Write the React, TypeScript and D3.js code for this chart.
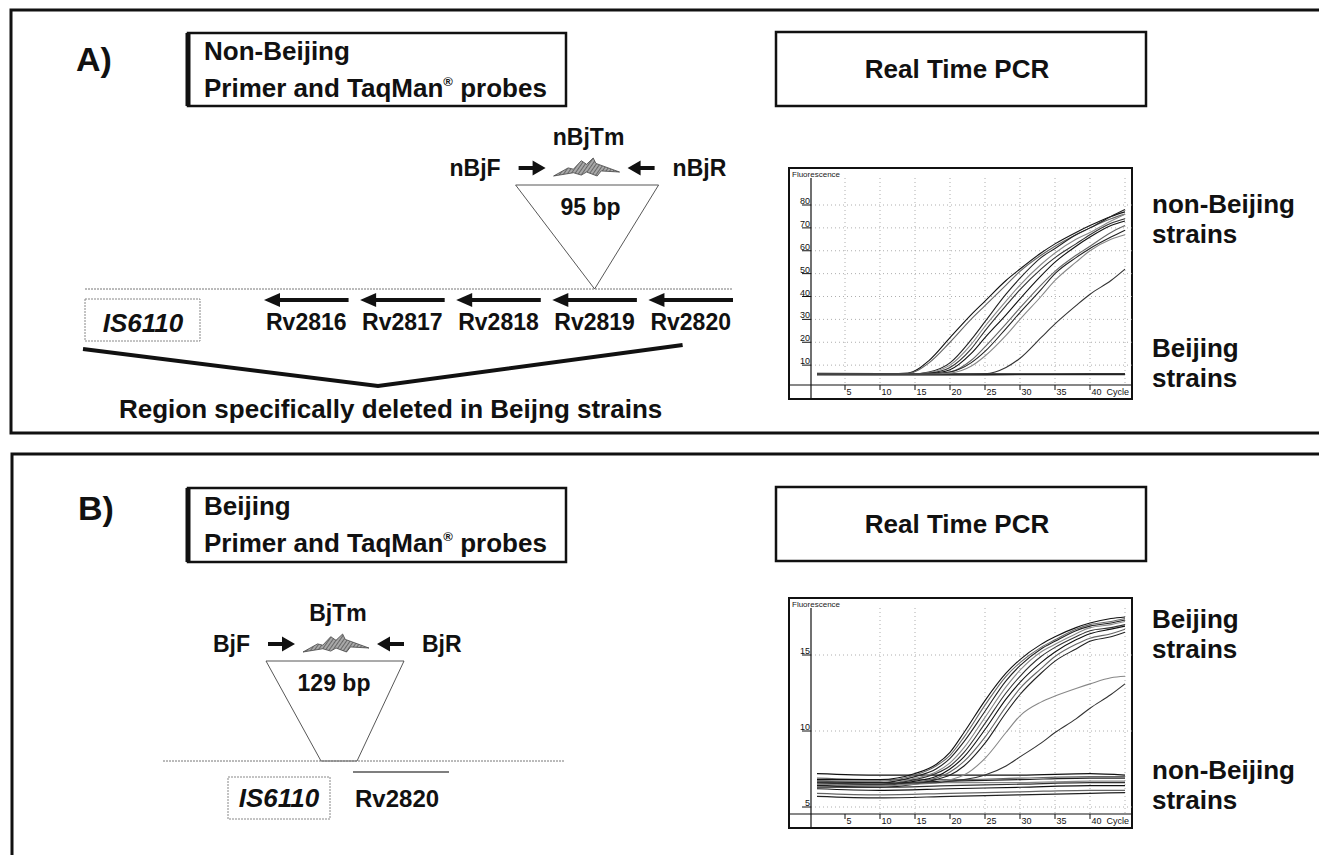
import React from "react";
import * as d3 from "d3";

const FONT = "'Liberation Sans', Arial, Helvetica, sans-serif";

// ---- real time PCR curves, fluorescence ----
const cyclesA = [1, 10, 14, 17, 20, 23, 25, 28, 30, 33, 35, 38, 40, 43, 45];
const nonBeijingA = [
  [6, 6, 6.5, 12, 22, 32, 38, 47, 52, 59, 63, 68, 71, 75, 77],
  [6, 6, 6.3, 11, 20, 30, 36, 45, 51, 58, 62, 67, 70, 74, 76],
  [6, 6, 6, 7, 11, 21, 29, 41, 48, 57, 61, 67, 70, 75, 78],
  [6, 6, 6, 6.8, 10, 19, 27, 38, 45, 54, 59, 65, 68, 73, 76],
  [6, 6, 6, 6.5, 9, 17, 25, 36, 43, 52, 57, 63, 67, 72, 74],
  [6, 6, 6, 6.3, 8, 15, 22, 32, 39, 49, 55, 62, 66, 71, 73],
  [6, 6, 6, 6.2, 7, 12, 18, 28, 35, 45, 51, 58, 62, 68, 71],
  [6, 6, 6, 6.1, 7, 11, 16, 26, 33, 43, 50, 57, 61, 66, 69],
  [6, 6, 6, 6, 6.5, 9.5, 14, 23, 30, 40, 47, 55, 60, 65, 67],
  [6, 6, 6, 6, 6, 6, 6.2, 9, 13, 22, 28, 36, 41, 47, 52],
];
const baseCycles = [1, 10, 20, 30, 40, 45];
const beijingA = [
  [6.3, 6.2, 6.1, 6.1, 6.2, 6.2],
  [6.0, 5.9, 5.9, 6.0, 6.0, 6.0],
  [5.8, 5.8, 5.8, 5.9, 5.9, 5.9],
];

const cyclesB = [1, 10, 15, 18, 20, 22, 25, 28, 30, 33, 35, 38, 40, 43, 45];
const beijingB = [
  [6.8, 6.8, 7.2, 7.8, 8.6, 9.9, 12.0, 13.8, 14.7, 15.7, 16.2, 16.8, 17.1, 17.4, 17.5],
  [6.7, 6.7, 7.1, 7.7, 8.4, 9.6, 11.7, 13.6, 14.5, 15.5, 16.0, 16.7, 17.0, 17.2, 17.4],
  [6.6, 6.6, 7.0, 7.5, 8.2, 9.3, 11.3, 13.3, 14.3, 15.4, 15.9, 16.6, 16.9, 17.1, 17.3],
  [6.5, 6.5, 6.9, 7.3, 7.9, 8.9, 10.9, 12.9, 14.0, 15.2, 15.7, 16.4, 16.8, 17.0, 17.2],
  [6.6, 6.5, 6.8, 7.2, 7.7, 8.6, 10.5, 12.5, 13.6, 14.9, 15.5, 16.2, 16.6, 16.8, 17.0],
  [6.4, 6.4, 6.7, 7.0, 7.5, 8.3, 10.1, 12.1, 13.2, 14.5, 15.2, 16.0, 16.4, 16.7, 16.9],
  [6.5, 6.4, 6.6, 6.9, 7.3, 8.0, 9.6, 11.6, 12.8, 14.1, 14.9, 15.7, 16.1, 16.4, 16.7],
  [6.3, 6.3, 6.5, 6.8, 7.1, 7.7, 9.2, 11.2, 12.4, 13.8, 14.6, 15.4, 15.9, 16.2, 16.5],
  [6.5, 6.4, 6.5, 6.6, 6.8, 7.1, 8.2, 9.9, 11.0, 11.9, 12.3, 12.8, 13.1, 13.5, 13.6],
  [6.6, 6.5, 6.6, 6.6, 6.7, 6.8, 7.1, 7.7, 8.3, 9.2, 9.9, 10.8, 11.5, 12.4, 13.1],
];
const nonBeijingB = [
  [7.2, 7.1, 7.1, 7.1, 7.2, 7.1],
  [6.9, 6.8, 6.8, 6.9, 7.0, 7.0],
  [6.7, 6.6, 6.7, 6.8, 6.9, 6.9],
  [6.6, 6.5, 6.6, 6.6, 6.7, 6.7],
  [6.4, 6.3, 6.4, 6.5, 6.6, 6.6],
  [6.2, 6.1, 6.2, 6.3, 6.4, 6.4],
  [5.9, 5.8, 5.9, 6.0, 6.1, 6.1],
  [5.7, 5.6, 5.7, 5.8, 5.9, 5.95],
];

const xTicks = [5, 10, 15, 20, 25, 30, 35, 40];
const xGridA = [5, 10, 15, 20, 25, 30, 35, 40, 45];
const yTicksA = [10, 20, 30, 40, 50, 60, 70, 80];
const xGridB = [10, 15, 25, 30, 35, 40, 45];
const yTicksB = [5, 10, 15];

// ---- gene map ----
const genesA = ["Rv2816", "Rv2817", "Rv2818", "Rv2819", "Rv2820"];
const ampliconA = "95 bp";
const ampliconB = "129 bp";

const inks = ["#111", "#666", "#222", "#888", "#333"];

function PcrChart({ box, yScaleDomain, yScaleRange, yTicks, xGrid, cycles, rising, flat, flatWidth }: any) {
  const left = box.x + 22;
  const right = box.x + box.w;
  const bottom = box.y + box.h - 14;
  const top = box.y + 10;
  const x = d3.scaleLinear().domain([0, 46]).range([left - 1, right]);
  const y = d3.scaleLinear().domain(yScaleDomain).range(yScaleRange);
  const line = d3
    .line<number[]>()
    .x(d => x(d[0]))
    .y(d => y(d[1]))
    .curve(d3.curveMonotoneX);
  const clipId = "clip" + box.y;

  return (
    <g>
      <defs>
        <clipPath id={clipId}>
          <rect x={left} y={top - 8} width={right - left} height={bottom - top + 8} />
        </clipPath>
      </defs>
      <rect x={box.x} y={box.y} width={box.w} height={box.h} fill="#fff" stroke="#111" strokeWidth={2} />
      <text x={box.x + 3} y={box.y + 9} fontSize={8} fill="#222">Fluorescence</text>

      {/* dotted grid */}
      {xGrid.map((t: number) => (
        <line key={"gx" + t} x1={x(t)} x2={x(t)} y1={top} y2={bottom} stroke="#999" strokeWidth={0.8} strokeDasharray="1,3" />
      ))}
      {yTicks.map((t: number) => (
        <line key={"gy" + t} x1={left} x2={right} y1={y(t)} y2={y(t)} stroke="#999" strokeWidth={0.8} strokeDasharray="1,3" />
      ))}

      {/* axes */}
      <line x1={left} x2={left} y1={top} y2={box.y + box.h} stroke="#111" strokeWidth={1.2} />
      <line x1={box.x} x2={right} y1={bottom} y2={bottom} stroke="#111" strokeWidth={1.2} />
      {yTicks.map((t: number) => (
        <g key={"yt" + t}>
          <line x1={left - 9} x2={left} y1={y(t)} y2={y(t)} stroke="#111" strokeWidth={1} />
          <text x={left - 1} y={y(t) - 1} fontSize={9} textAnchor="end" fill="#111">{t}</text>
        </g>
      ))}
      {xTicks.map(t => (
        <g key={"xt" + t}>
          <line x1={x(t)} x2={x(t)} y1={bottom} y2={bottom + 5} stroke="#111" strokeWidth={1} />
          <text x={x(t) + 1.5} y={bottom + 10} fontSize={9} fill="#111">{t}</text>
        </g>
      ))}
      <text x={right - 3} y={bottom + 10} fontSize={9} textAnchor="end" fill="#111">Cycle</text>

      <g clipPath={`url(#${clipId})`} fill="none">
        {flat.map((vals: number[], i: number) => (
          <path key={"f" + i} d={line(baseCycles.map((c, j) => [c, vals[j]])) || ""} stroke={inks[i % inks.length]} strokeWidth={flatWidth} />
        ))}
        {rising.map((vals: number[], i: number) => (
          <path key={"r" + i} d={line(cycles.map((c: number, j: number) => [c, vals[j]])) || ""} stroke={inks[i % inks.length]} strokeWidth={1.1} />
        ))}
      </g>
    </g>
  );
}

// bold primer arrow, head at xHead
function primerArrow(xTail: number, xHead: number, yc: number) {
  const dir = xHead > xTail ? 1 : -1;
  const hl = 13, hh = 7.5, sh = 2;
  const xb = xHead - dir * hl;
  return `M${xTail},${yc - sh}L${xb},${yc - sh}L${xb},${yc - hh}L${xHead},${yc}L${xb},${yc + hh}L${xb},${yc + sh}L${xTail},${yc + sh}Z`;
}

// TaqMan probe drawn as a grey jagged bolt
const boltShape = [
  [0, 1], [0.22, 0.55], [0.3, 0.62], [0.42, 0.15], [0.5, 0.35], [0.6, 0],
  [0.64, 0.3], [1, 0.78], [0.72, 0.72], [0.66, 1], [0.5, 0.78], [0.42, 0.95], [0.3, 0.82],
];
function boltPath(x0: number, y0: number, w: number, h: number) {
  return "M" + boltShape.map(p => `${x0 + p[0] * w},${y0 + p[1] * h}`).join("L") + "Z";
}

function Primers({ cx, y, fwd, rev, probe }: any) {
  return (
    <g fontWeight="bold" fontSize={23}>
      <text x={cx + 2} y={y - 23} textAnchor="middle">{probe}</text>
      <text x={cx - 86} y={y + 8} textAnchor="end">{fwd}</text>
      <path d={primerArrow(cx - 68, cx - 41, y)} fill="#111" />
      <path d={boltPath(cx - 33, y - 10, 66, 18)} fill="url(#hatch)" stroke="#444" strokeWidth={0.8} />
      <path d={primerArrow(cx + 68, cx + 41, y)} fill="#111" />
      <text x={cx + 86} y={y + 8}>{rev}</text>
    </g>
  );
}

function TitleBox({ x, y, w, h, first }: any) {
  return (
    <g>
      <rect x={x} y={y} width={w} height={h} fill="#fff" stroke="#111" strokeWidth={2.5} />
      <line x1={x} x2={x} y1={y} y2={y + h} stroke="#111" strokeWidth={5} />
      <text x={x + 16} y={y + 27} fontSize={26} fontWeight="bold">{first}</text>
      <text x={x + 16} y={y + 64} fontSize={26} fontWeight="bold">
        Primer and TaqMan<tspan fontSize={13} dy={-11}>®</tspan>
        <tspan dy={11}> probes</tspan>
      </text>
    </g>
  );
}

function PcrBox({ y }: { y: number }) {
  return (
    <g>
      <rect x={776} y={y} width={370} height={74} fill="#fff" stroke="#111" strokeWidth={2.5} />
      <text x={957} y={y + 46} fontSize={26} fontWeight="bold" textAnchor="middle">Real Time PCR</text>
    </g>
  );
}

function StrainLabel({ x, y, name }: any) {
  return (
    <text x={x} y={y} fontSize={26} fontWeight="bold">
      <tspan x={x}>{name}</tspan>
      <tspan x={x} dy={30}>strains</tspan>
    </text>
  );
}

function PanelA() {
  const trackY = 289;
  const genes = d3.scaleBand<string>().domain(genesA).range([264, 733]).paddingInner(0.12);
  const tipX = (genes("Rv2819") as number) + genes.bandwidth() / 2;
  return (
    <g>
      <text x={76} y={71} fontSize={34} fontWeight="bold">A)</text>
      <TitleBox x={188} y={33} w={378} h={73} first="Non-Beijing" />
      <Primers cx={tipX - 8} y={168} fwd="nBjF" rev="nBjR" probe="nBjTm" />

      {/* amplicon */}
      <path d={`M${tipX - 79},185L${tipX + 64},185L${tipX},${trackY}Z`} fill="none" stroke="#444" strokeWidth={0.9} />
      <text x={tipX - 4} y={215} fontSize={23} fontWeight="bold" textAnchor="middle">{ampliconA}</text>

      <line x1={85} x2={733} y1={trackY} y2={trackY} stroke="#777" strokeWidth={1} strokeDasharray="2,1" />
      {genesA.map(g => {
        const x0 = genes(g) as number;
        const x1 = x0 + genes.bandwidth();
        return (
          <g key={g}>
            <line x1={x0 + 12} x2={x1} y1={trackY + 11} y2={trackY + 11} stroke="#111" strokeWidth={4} />
            <path d={`M${x0},${trackY + 11}L${x0 + 16},${trackY + 4}L${x0 + 16},${trackY + 18}Z`} fill="#111" />
            <text x={x0 + genes.bandwidth() / 2} y={trackY + 41} fontSize={23} fontWeight="bold" textAnchor="middle">{g}</text>
          </g>
        );
      })}

      <rect x={85} y={299} width={115} height={42} fill="none" stroke="#888" strokeWidth={1} strokeDasharray="2,1" />
      <text x={143} y={332} fontSize={26} fontWeight="bold" fontStyle="italic" textAnchor="middle">IS6110</text>

      <path d={`M83,349L378,386L${tipX + 88},345`} fill="none" stroke="#111" strokeWidth={4} strokeLinejoin="miter" />
      <text x={119} y={418} fontSize={26} fontWeight="bold">Region specifically deleted in Beijng strains</text>
    </g>
  );
}

function PanelB() {
  const trackY = 761;
  return (
    <g>
      <text x={78} y={520} fontSize={34} fontWeight="bold">B)</text>
      <TitleBox x={188} y={488} w={378} h={74} first="Beijing" />
      <Primers cx={336} y={644} fwd="BjF" rev="BjR" probe="BjTm" />

      <path d={`M266,661L404,661L357,${trackY}L321,${trackY}Z`} fill="none" stroke="#444" strokeWidth={0.9} />
      <text x={334} y={691} fontSize={23} fontWeight="bold" textAnchor="middle">{ampliconB}</text>

      <line x1={163} x2={565} y1={trackY} y2={trackY} stroke="#777" strokeWidth={1} strokeDasharray="2,1" />
      <line x1={353} x2={449} y1={trackY + 11} y2={trackY + 11} stroke="#555" strokeWidth={1.3} />
      <rect x={228} y={777} width={102} height={42} fill="none" stroke="#888" strokeWidth={1} strokeDasharray="2,1" />
      <text x={279} y={807} fontSize={26} fontWeight="bold" fontStyle="italic" textAnchor="middle">IS6110</text>
      <text x={355} y={807} fontSize={24} fontWeight="bold">Rv2820</text>
    </g>
  );
}

export default function App() {
  const boxA = { x: 789, y: 168, w: 343, h: 231 };
  const boxB = { x: 789, y: 598, w: 343, h: 230 };
  return (
    <svg width={1319} height={855} style={{ position: "absolute", left: 0, top: 0, background: "#fff" }} fontFamily={FONT} fill="#111">
      <defs>
        <pattern id="hatch" width={3} height={3} patternUnits="userSpaceOnUse" patternTransform="rotate(35)">
          <rect width={3} height={3} fill="#a8a8a8" />
          <line x1={0} y1={0} x2={0} y2={3} stroke="#444" strokeWidth={1.3} />
        </pattern>
      </defs>
      <rect x={0} y={0} width={1319} height={855} fill="#fff" />
      {/* panel frames */}
      <path d="M1325,10L11,10L11,433L1325,433" fill="none" stroke="#111" strokeWidth={3} />
      <path d="M1325,454L12,454L12,860" fill="none" stroke="#111" strokeWidth={3} />

      <PanelA />
      <PcrBox y={32} />
      <PcrChart box={boxA} yScaleDomain={[0, 80]} yScaleRange={[388, 205]} yTicks={yTicksA} xGrid={xGridA} cycles={cyclesA} rising={nonBeijingA} flat={beijingA} flatWidth={1.6} />
      <StrainLabel x={1152} y={213} name="non-Beijing" />
      <StrainLabel x={1152} y={357} name="Beijing" />

      <PanelB />
      <PcrBox y={487} />
      <PcrChart box={boxB} yScaleDomain={[5, 15]} yScaleRange={[807, 655]} yTicks={yTicksB} xGrid={xGridB} cycles={cyclesB} rising={beijingB} flat={nonBeijingB} flatWidth={1.2} />
      <StrainLabel x={1152} y={628} name="Beijing" />
      <StrainLabel x={1152} y={779} name="non-Beijing" />
    </svg>
  );
}
